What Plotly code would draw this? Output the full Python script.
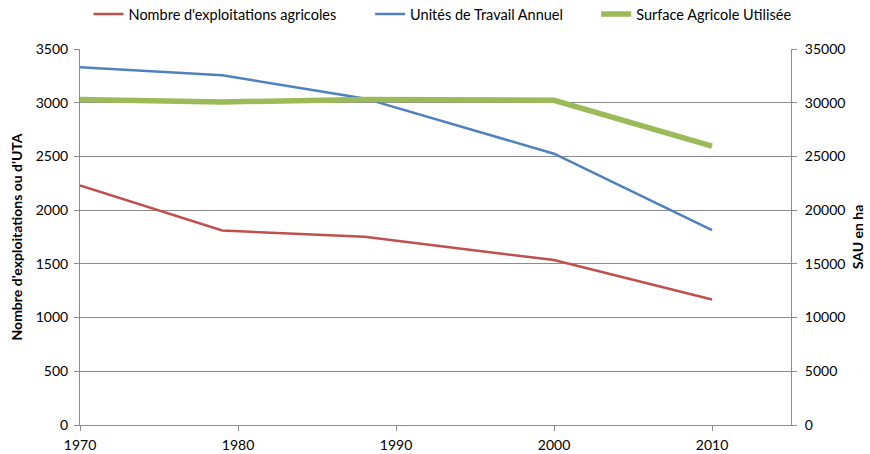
import plotly.graph_objects as go

years = [1970, 1979, 1988, 2000, 2010]
exploitations = [2230, 1810, 1752, 1535, 1168]
uta = [3330, 3255, 3040, 2525, 1813]
sau = [30300, 30070, 30300, 30230, 25950]

x_ticks = [1970, 1980, 1990, 2000, 2010]

FONT = "Lato"
GRID = "#8c8c8c"
TICKF = dict(family=FONT, size=14, color="black")
LEGF = dict(family=FONT, size=14.5, color="black")

fig = go.Figure()
fig.add_trace(go.Scatter(x=years, y=exploitations, mode="lines",
                         name="Nombre d'exploitations agricoles", legend="legend",
                         line=dict(color="#C0504D", width=2.5)))
fig.add_trace(go.Scatter(x=years, y=uta, mode="lines",
                         name="Unités de Travail Annuel", legend="legend2",
                         line=dict(color="#4F81BD", width=2.5)))
fig.add_trace(go.Scatter(x=years, y=sau, mode="lines",
                         name="Surface Agricole Utilisée", yaxis="y2", legend="legend3",
                         line=dict(color="#9BBB59", width=5.5)))

def leg(x):
    return dict(orientation="h", x=x, xanchor="left",
                yref="container", y=0.969, yanchor="middle",
                font=LEGF, bgcolor="rgba(0,0,0,0)")

fig.update_layout(
    width=870, height=454,
    margin=dict(l=79.5, r=79, t=49, b=28.5, autoexpand=False),
    paper_bgcolor="white", plot_bgcolor="white",
    font=dict(family=FONT, size=14, color="black"),
    showlegend=True,
    legend=leg(0.012), legend2=leg(0.408), legend3=leg(0.726),
    xaxis=dict(range=[1970, 2015], tickvals=x_ticks, ticktext=[str(v) for v in x_ticks],
               showgrid=False, zeroline=False, showline=True, linecolor=GRID, linewidth=1,
               ticks="outside", ticklen=5, tickcolor=GRID, automargin=False,
               ticklabelstandoff=2, tickfont=TICKF),
    yaxis=dict(range=[0, 3500], dtick=500, tick0=0, showgrid=True, gridcolor=GRID, gridwidth=1,
               zeroline=False, showline=True, linecolor=GRID, linewidth=1,
               ticks="outside", ticklen=5, tickcolor=GRID, automargin=False,
               tickfont=TICKF, tickformat="d", ticklabelstandoff=3,
               title=dict(text="<b>Nombre d'exploitations ou d'UTA</b>",
                          font=dict(family=FONT, size=14), standoff=9)),
    yaxis2=dict(range=[0, 35000], dtick=5000, tick0=0, overlaying="y", side="right",
                showgrid=False, zeroline=False, showline=True, linecolor=GRID, linewidth=1,
                ticks="outside", ticklen=5, tickcolor=GRID, automargin=False,
                tickfont=TICKF, tickformat="d", ticklabelstandoff=5,
                title=dict(text="<b>SAU en ha</b>", font=dict(family=FONT, size=14), standoff=8)),
)

fig.write_html("out.html", config={"displayModeBar": False},
               post_script="document.body.style.margin='0';")
